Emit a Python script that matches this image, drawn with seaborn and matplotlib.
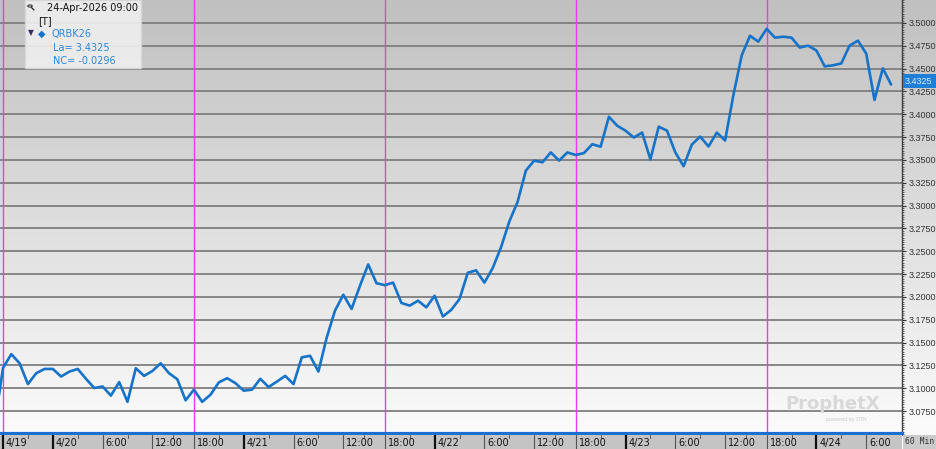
import numpy as np
import pandas as pd
import matplotlib
matplotlib.use("Agg")
import matplotlib.pyplot as plt
import seaborn as sns
from matplotlib.patches import Rectangle, Circle
from matplotlib.lines import Line2D

# -----------------------------
# DATA (60 min bars, QRBK26)
# -----------------------------
symbol = "QRBK26"
last_stamp = "24-Apr-2026 09:00"
last_price = 3.4325
net_change = -0.0296

# last bar of the previous week (only its tail is visible at the left edge)
prev_close = 3.0600

prices = [
    3.1223, 3.1374, 3.1274, 3.1046, 3.1165, 3.1212, 3.1212, 3.1129, 3.1183, 3.1212,
    3.1104, 3.1003, 3.1020, 3.0920, 3.1068, 3.0852, 3.1220, 3.1136, 3.1190, 3.1274,
    3.1165, 3.1100, 3.0869, 3.0985, 3.0852, 3.0930, 3.1064, 3.1111, 3.1057, 3.0974,
    3.0985, 3.1104, 3.1014, 3.1074, 3.1136, 3.1046, 3.1339, 3.1356, 3.1183, 3.1555,
    3.1850, 3.2024, 3.1869, 3.2121, 3.2356, 3.2150, 3.2129, 3.2157, 3.1934, 3.1905,
    3.1959, 3.1886, 3.2013, 3.1786, 3.1858, 3.1977, 3.2265, 3.2291, 3.2157, 3.2316,
    3.2543, 3.2825, 3.3041, 3.3384, 3.3492, 3.3474, 3.3582, 3.3492, 3.3582, 3.3553,
    3.3575, 3.3672, 3.3644, 3.3972, 3.3874, 3.3820, 3.3745, 3.3799, 3.3506, 3.3864,
    3.3820, 3.3582, 3.3431, 3.3669, 3.3755, 3.3647, 3.3799, 3.3712, 3.4210, 3.4643,
    3.4859, 3.4794, 3.4935, 3.4838, 3.4848, 3.4838, 3.4729, 3.4751, 3.4697, 3.4524,
    3.4535, 3.4556, 3.4751, 3.4805, 3.4664, 3.4156, 3.4502, 3.4325,
]

price_ticks = [3.075, 3.100, 3.125, 3.150, 3.175, 3.200, 3.225, 3.250, 3.275,
               3.300, 3.325, 3.350, 3.375, 3.400, 3.425, 3.450, 3.475, 3.500]

# session bars: 18:00 -> 16:00 next day, the 17:00 hour is a break
times = pd.date_range("2026-04-19 18:00", "2026-04-24 09:00", freq="h")
times = times[times.hour != 17]

df = pd.DataFrame({"bar": np.arange(len(times)), "time": times, "price": prices})
df_prev = pd.DataFrame({"bar": [-1], "time": [pd.Timestamp("2026-04-17 16:00")],
                        "price": [prev_close]})
df_all = pd.concat([df_prev, df], ignore_index=True)

# -----------------------------
# FIGURE SETUP
# -----------------------------
sns.set_theme(style="white")
plt.rcParams["font.family"] = ["DejaVu Sans"]
scale_font = "Liberation Sans"

W, H = 936, 449
fig = plt.figure(figsize=(W / 100, H / 100), dpi=100)


def fx(x):
    return x / W


def fy(y):
    return 1 - y / H


# background gradient for the whole figure (plot + price scale)
bg = fig.add_axes([0, 0, 1, 1])
grad = np.linspace(0, 1, 256).reshape(-1, 1)
bg.imshow(grad, aspect="auto", cmap=matplotlib.colors.LinearSegmentedColormap.from_list(
    "bg", ["#c0c0c0", "#fdfdfd"]), extent=[0, 1, 0, 1], origin="upper")
bg.axis("off")

plot_right = 902
plot_bottom = 434
ax = fig.add_axes([0, fy(plot_bottom), fx(plot_right), plot_bottom / H])
ax.set_facecolor("none")

px_per_bar = 8.3
x0 = -3 / px_per_bar
ax.set_xlim(x0, x0 + plot_right / px_per_bar)
step = 0.025 / 23.1
ax.set_ylim(3.5 - (plot_bottom - 19) * step, 3.5 + 19 * step)

# horizontal grid
for v in price_ticks:
    ax.axhline(v, color="#7e7e7e", lw=1.3, zorder=1)

# session separators (18:00 bars)
for b in df.loc[df["time"].dt.hour == 18, "bar"]:
    ax.axvline(b, color="#ee3aee", lw=1.0, zorder=2)

sns.lineplot(data=df_all, x="bar", y="price", ax=ax, color="#1673c8",
             linewidth=1.9, zorder=5)

# right price scale
ax.yaxis.tick_right()
ax.set_yticks(price_ticks)
ax.set_yticklabels([f"{v:.4f}" for v in price_ticks], fontsize=6.5,
                   color="#333333", family=scale_font)
ax.set_yticks(np.arange(3.05, 3.525, 0.0025), minor=True)
ax.tick_params(axis="y", which="major", right=True, length=3, width=0.8,
               color="#333333", pad=1.5)
ax.tick_params(axis="y", which="minor", right=True, length=1.5, width=0.6,
               color="#555555")
ax.set_xticks([])
ax.set_xlabel("")
ax.set_ylabel("")
for side in ["top", "left"]:
    ax.spines[side].set_visible(False)
ax.spines["right"].set_color("#404040")
ax.spines["right"].set_linewidth(1.0)
ax.spines["bottom"].set_color("#1a6fd0")
ax.spines["bottom"].set_linewidth(3.0)

# -----------------------------
# TIME AXIS BAND
# -----------------------------
axb = fig.add_axes([0, 0, fx(plot_right), (H - plot_bottom - 1) / H])
axb.set_facecolor("#c4c4c4")
axb.set_xlim(ax.get_xlim())
axb.set_ylim(0, 1)
axb.set_xticks([])
axb.set_yticks([])
for s in axb.spines.values():
    s.set_visible(False)

label_bars, label_text, label_is_date = [], [], []
for b, t in zip(df["bar"], df["time"]):
    if b == 0 or t.hour == 0:
        label_bars.append(b)
        label_text.append(f"{t.month}/{t.day}")
        label_is_date.append(True)
    elif t.hour in (6, 12, 18):
        label_bars.append(b)
        label_text.append(f"{t.hour}:00")
        label_is_date.append(False)

for b, txt, is_date in zip(label_bars, label_text, label_is_date):
    axb.axvline(b, color="#111111" if is_date else "#555555",
                lw=1.6 if is_date else 0.8)
    axb.text(b + 0.35, 0.42, txt, fontsize=7, color="#111111",
             ha="left", va="center")
for a, b in zip(label_bars[:-1], label_bars[1:]):
    axb.plot([(a + b) / 2] * 2, [0.8, 1.0], color="#555555", lw=0.7)

# "60 Min" corner
fig.patches.append(Rectangle((fx(plot_right + 1), 0), 1 - fx(plot_right + 1),
                             (H - plot_bottom - 1) / H, transform=fig.transFigure,
                             facecolor="#cbcbcb", edgecolor="none", zorder=3))
fig.text(fx(905), fy(441), "60 Min", fontsize=5.8, family="DejaVu Sans Mono",
         color="#333333", va="center", zorder=4)

# current price tag
fig.patches.append(Rectangle((fx(plot_right + 1), fy(88)), 1 - fx(plot_right + 1),
                             14 / H, transform=fig.transFigure,
                             facecolor="#1f7fd6", edgecolor="none", zorder=3))
fig.text(fx(905), fy(81), f"{last_price:.4f}", fontsize=6.5, color="#d8ecff",
         family=scale_font, va="center", zorder=4)

# -----------------------------
# INFO BOX (top left)
# -----------------------------
fig.patches.append(Rectangle((fx(25), fy(68)), fx(116), 68 / H,
                             transform=fig.transFigure, facecolor="#efefef",
                             edgecolor="#d8d8d8", alpha=0.9, zorder=6))
fig.patches.append(Circle((fx(30), fy(6)), 2.2 / W, transform=fig.transFigure,
                          facecolor="none", edgecolor="#333333", lw=0.8, zorder=7))
fig.lines.append(Line2D([fx(31.5), fx(34)], [fy(7.5), fy(10)], transform=fig.transFigure,
                        color="#333333", lw=1.0, zorder=7))
fig.text(fx(47), fy(8), last_stamp, fontsize=7, color="#111111", va="center", zorder=7)
fig.text(fx(38), fy(21), "[T]", fontsize=7, color="#111111", va="center", zorder=7)
fig.text(fx(28), fy(33), "▼", fontsize=5.5, color="#3a2a6a", va="center", zorder=7)
fig.text(fx(38), fy(34), "◆", fontsize=7, color="#1673c8", va="center", zorder=7)
fig.text(fx(51), fy(34), symbol, fontsize=7, color="#2f86d6", va="center", zorder=7)
fig.text(fx(53), fy(48), f"La= {last_price:.4f}", fontsize=7, color="#2f86d6",
         va="center", zorder=7)
fig.text(fx(53), fy(61), f"NC= {net_change:.4f}", fontsize=7, color="#2f86d6",
         va="center", zorder=7)

# watermark
fig.text(fx(785), fy(404), "ProphetX", fontsize=13, fontweight="bold",
         color="#d8d8d8", va="center", zorder=4)
fig.text(fx(826), fy(419), "powered by DTN", fontsize=3.5, color="#c8c8c8",
         va="center", zorder=4)

fig.savefig("out.png", dpi=100)
